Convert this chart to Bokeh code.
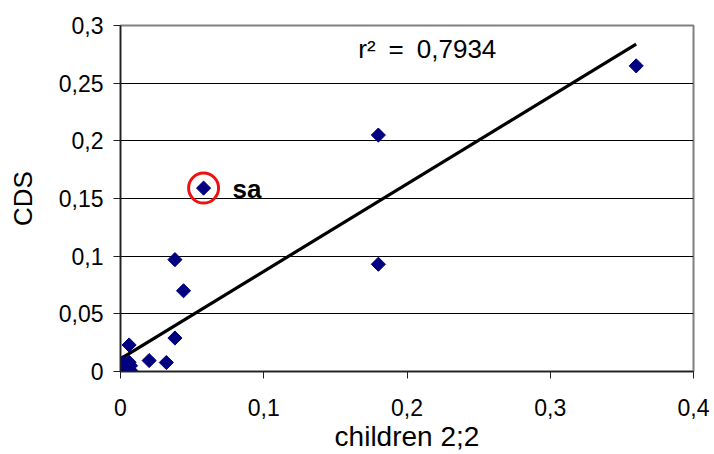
from bokeh.plotting import figure
from bokeh.models import (ColumnDataSource, FixedTicker, CustomJSTickFormatter, Label, Range1d)
from bokeh.embed import file_html
from bokeh.resources import INLINE
import numpy as np

# data
children = [0.36, 0.18, 0.18, 0.058, 0.038, 0.044, 0.038, 0.006, 0.020, 0.032,
            0.000, 0.001, 0.003, 0.005, 0.007, 0.000, 0.002, 0.004, 0.007, 0.001,
            0.006, 0.003, 0.000]
cds = [0.265, 0.205, 0.093, 0.159, 0.097, 0.070, 0.029, 0.023, 0.0095, 0.0078,
       0.000, 0.004, 0.002, 0.006, 0.001, 0.007, 0.008, 0.000, 0.005, 0.002,
       0.008, 0.006, 0.003]
sa_x, sa_y = 0.058, 0.159
trend_intercept = 0.011
trend_slope = 0.758
r2_text = "r\u00b2\u2002=\u20020,7934"
x_ticks = [0, 0.1, 0.2, 0.3, 0.4]
y_ticks = [0, 0.05, 0.1, 0.15, 0.2, 0.25, 0.3]

FONT = "Liberation Sans"

p = figure(width=714, height=454, output_backend="svg", toolbar_location=None,
           x_range=Range1d(0, 0.4), y_range=Range1d(0, 0.3),
           min_border_left=120, min_border_right=21, min_border_top=25, min_border_bottom=81)
p.background_fill_color = "white"
p.border_fill_color = "white"
p.outline_line_color = "#808080"
p.outline_line_width = 2

fmt = CustomJSTickFormatter(code="return (Math.round(tick*1000)/1000).toString().replace('.', ',');")
for ax, ticks in ((p.xaxis[0], x_ticks), (p.yaxis[0], y_ticks)):
    ax.ticker = FixedTicker(ticks=ticks)
    ax.formatter = fmt
    ax.major_label_text_font = FONT
    ax.major_label_text_font_size = "23px"
    ax.major_label_text_color = "black"
    ax.axis_line_color = "#202020"
    ax.axis_line_width = 1.5
    ax.major_tick_line_color = "#202020"
    ax.major_tick_out = 7
    ax.major_tick_in = 0
    ax.minor_tick_line_color = None
    ax.axis_label_text_font = FONT
    ax.axis_label_text_font_style = "normal"
    ax.axis_label_text_color = "black"

p.xaxis.axis_label = "children 2;2"
p.yaxis.axis_label = "CDS"
p.xaxis.axis_label_text_font_size = "28px"
p.yaxis.axis_label_text_font_size = "26px"
p.xaxis.major_label_standoff = 20
p.yaxis.major_label_standoff = 10
p.xaxis.axis_label_standoff = 2
p.yaxis.axis_label_standoff = 18

p.xgrid.grid_line_color = None
p.ygrid.grid_line_color = "black"
p.ygrid.grid_line_width = 1

# trend line
tx = np.array([0.0, max(children)])
p.line(tx, trend_intercept + trend_slope * tx, line_color="black", line_width=3.2)

src = ColumnDataSource(dict(x=children, y=cds))
p.scatter("x", "y", source=src, marker="square", angle=np.pi / 4, size=10,
          fill_color="#000080", line_color="#000080")

# highlighted point
p.scatter([sa_x], [sa_y], marker="circle", size=30, fill_color=None,
          line_color="#ee1111", line_width=3)
p.add_layout(Label(x=sa_x, y=sa_y, x_offset=29, y_offset=-1, text="sa",
                   text_font=FONT, text_font_size="26px", text_font_style="bold",
                   text_color="black", text_baseline="alphabetic"))
p.add_layout(Label(x=0.166, y=0.2794, text=r2_text, text_font=FONT,
                   text_font_size="26px", text_color="black", text_baseline="alphabetic"))

open("out.html", "w").write(file_html(p, INLINE))
